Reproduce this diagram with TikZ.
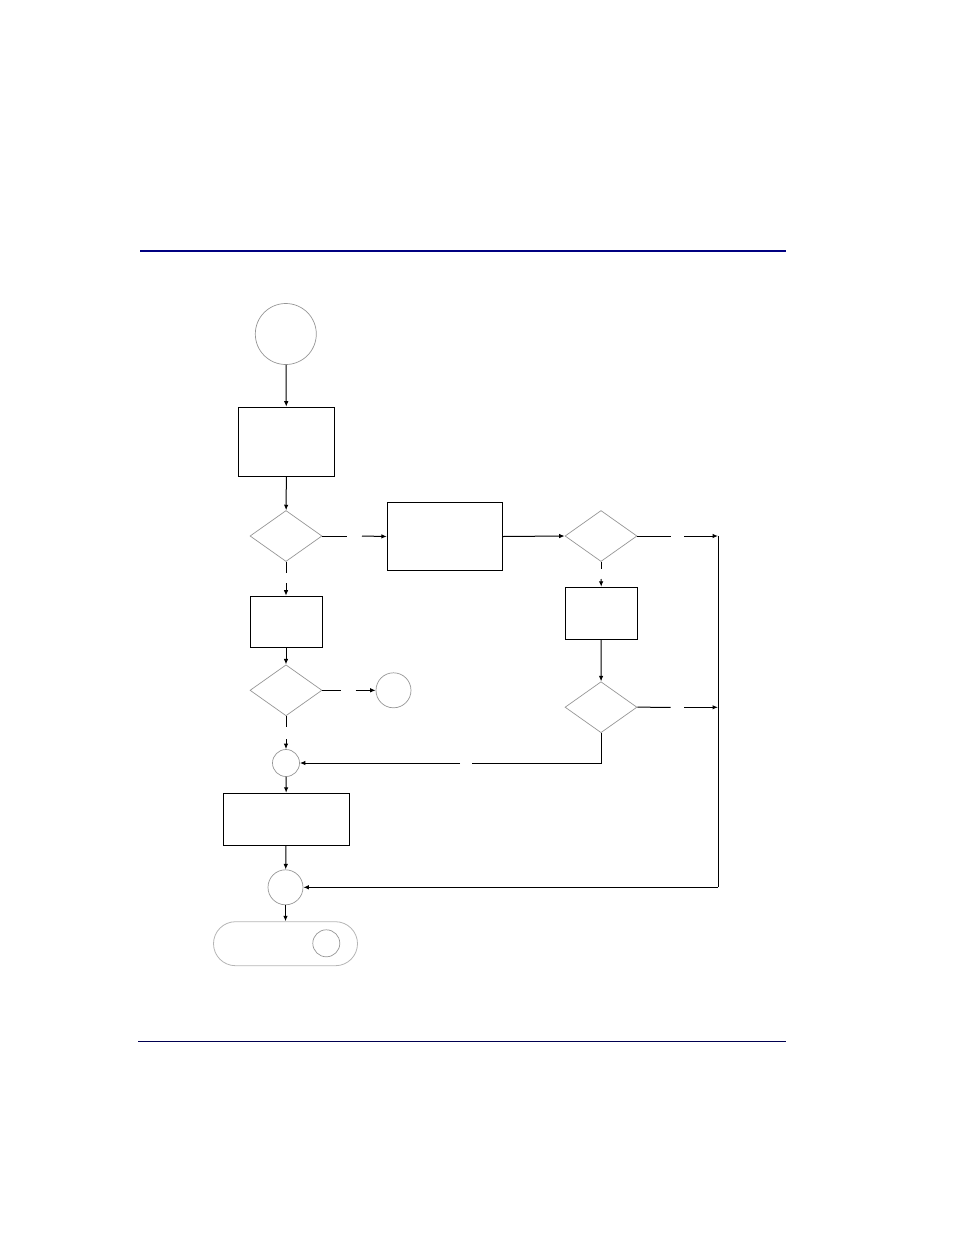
\documentclass[tikz,border=0pt]{standalone}
\usetikzlibrary{shapes.geometric,arrows.meta}
\definecolor{navytop}{RGB}{0,0,128}
\definecolor{navybot}{RGB}{0,0,80}
\definecolor{outl}{RGB}{150,150,150}
\begin{document}
\begin{tikzpicture}[x=1pt,y=-1pt,
  stepbox/.style={draw, rectangle, line width=1pt, inner sep=0pt},
  decision/.style={draw=outl, diamond, line width=0.7pt, inner sep=0pt},
  conn/.style={draw=outl, circle, line width=0.7pt, inner sep=0pt},
  termin/.style={draw=outl!70, rectangle, rounded corners=22pt, line width=0.8pt, inner sep=0pt},
  wire/.style={line width=1pt},
  arr/.style={line width=1pt, -{Latex[length=5.5pt,width=4.5pt]}}]
\useasboundingbox (0,0) rectangle (954,1235);
% page rules
\draw[navytop, line width=2pt] (140,251) -- (786,251);
\draw[navybot, line width=1pt] (138,1041.3) -- (786,1041.3);
% nodes
\node[conn, minimum size=61pt] (start) at (285.8,334) {};
\node[stepbox, minimum width=96pt, minimum height=69pt] (b1) at (286.5,441.7) {};
\node[decision, minimum width=72pt, minimum height=51pt] (d1) at (286,536) {};
\node[stepbox, minimum width=115pt, minimum height=68pt] (b2) at (444.8,536.5) {};
\node[decision, minimum width=72pt, minimum height=51pt] (d3) at (601,536) {};
\node[stepbox, minimum width=72pt, minimum height=51pt] (b3) at (286,621.7) {};
\node[decision, minimum width=72pt, minimum height=51pt] (d2) at (286,690.3) {};
\node[conn, minimum size=35pt] (cs) at (393.5,690.3) {};
\node[conn, minimum size=27pt] (c2) at (286,763) {};
\node[stepbox, minimum width=126pt, minimum height=52pt] (b4) at (286.3,819.3) {};
\node[conn, minimum size=35pt] (c3) at (285.5,887.3) {};
\node[termin, minimum width=144pt, minimum height=44pt] (term) at (285.5,943.7) {};
\node[conn, minimum size=27pt] (tc) at (326.3,943.3) {};
\node[stepbox, minimum width=72pt, minimum height=52pt] (b5) at (601.3,613.3) {};
\node[decision, minimum width=72pt, minimum height=51pt] (d4) at (601,707.2) {};
% gap coordinates
\coordinate (g1a) at (346.7,536);
\coordinate (g1b) at (362,536);
\coordinate (g2a) at (286,573.3);
\coordinate (g2b) at (286,583);
\coordinate (g3a) at (340.7,690.3);
\coordinate (g3b) at (355.7,690.3);
\coordinate (g4a) at (286,727.3);
\coordinate (g4b) at (286,739);
\coordinate (g5a) at (670.7,536);
\coordinate (g5b) at (684.3,536);
\coordinate (g6a) at (601,568.7);
\coordinate (g6b) at (601,579);
\coordinate (g7a) at (670.7,707.3);
\coordinate (g7b) at (684.3,707.3);
\coordinate (g8a) at (472,763);
\coordinate (g8b) at (460,763);
\coordinate (bt) at (718,536);
\coordinate (bm) at (718,707.3);
\coordinate (bb) at (718,887.3);
% connectors
\draw[arr] (start) -- (b1);
\draw[arr] (b1) -- (d1);
\draw[wire] (d1.east) -- (g1a);
\draw[arr] (g1b) -- (b2.west);
\draw[wire] (d1.south) -- (g2a);
\draw[arr] (g2b) -- (b3.north);
\draw[arr] (b3) -- (d2);
\draw[wire] (d2.east) -- (g3a);
\draw[arr] (g3b) -- (cs);
\draw[wire] (d2.south) -- (g4a);
\draw[arr] (g4b) -- (c2);
\draw[arr] (c2) -- (b4);
\draw[arr] (b4) -- (c3);
\draw[arr] (c3) -- (term);
\draw[arr] (b2.east) -- (d3.west);
\draw[wire] (d3.east) -- (g5a);
\draw[arr] (g5b) -- (bt);
\draw[wire] (d3.south) -- (g6a);
\draw[arr] (g6b) -- (b5.north);
\draw[arr] (b5) -- (d4);
\draw[wire] (d4.east) -- (g7a);
\draw[arr] (g7b) -- (bm);
\draw[wire] (d4.south) |- (g8a);
\draw[arr] (g8b) -- (c2);
\draw[wire] (bt) -- (bb);
\draw[arr] (bb) -- (c3);
\end{tikzpicture}
\end{document}
